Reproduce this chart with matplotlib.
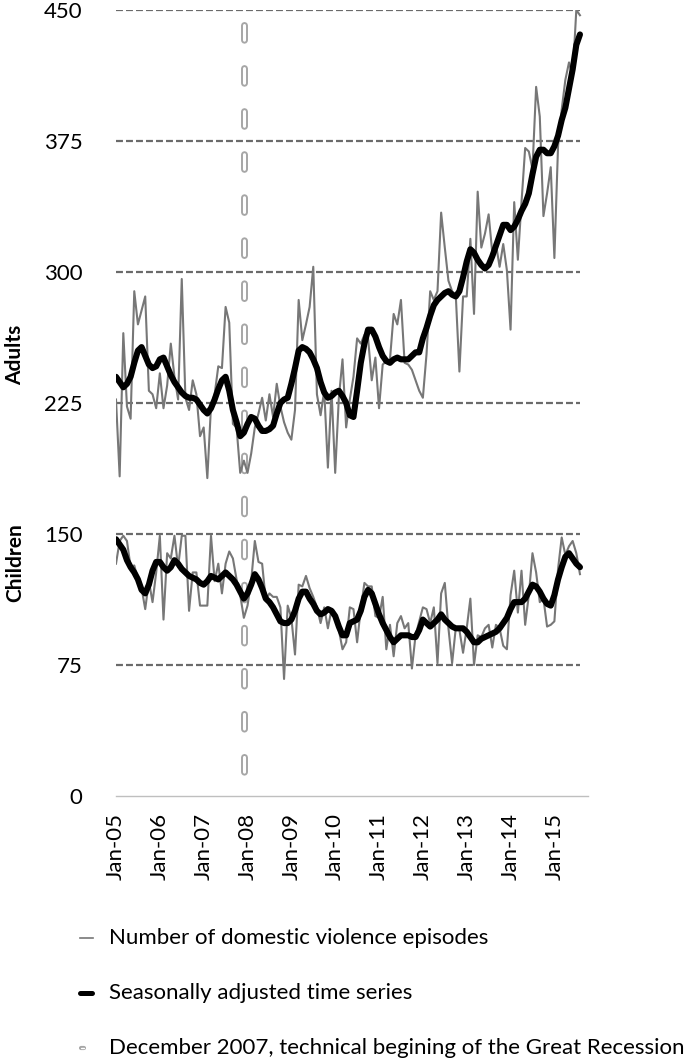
import matplotlib
matplotlib.use("Agg")
import matplotlib.pyplot as plt
from matplotlib.lines import Line2D
import numpy as np

plt.rcParams["font.family"] = ["Lato", "DejaVu Sans"]
plt.rcParams["lines.scale_dashes"] = False

# monthly series, Jan 2005 .. Aug 2015
adults_raw = [
    227, 183, 265, 223, 216, 289, 270, 278, 286, 232, 230, 222,
    242, 222, 235, 259, 240, 227, 296, 228, 221, 238, 230, 206,
    211, 182, 223, 230, 246, 245, 280, 271, 213, 211, 185, 192,
    185, 196, 211, 219, 228, 215, 230, 217, 236, 223, 214, 208,
    204, 221, 284, 261, 270, 280, 303, 230, 218, 232, 188, 232,
    185, 228, 250, 211, 227, 240, 262, 259, 264, 262, 238, 251,
    222, 247, 249, 250, 276, 270, 284, 248, 247, 244, 238, 232,
    228, 253, 289, 284, 289, 334, 314, 295, 289, 287, 243, 286,
    286, 319, 276, 346, 314, 322, 333, 311, 316, 303, 316, 301,
    267, 340, 307, 340, 371, 369, 359, 406, 389, 332, 345, 360,
    308, 372, 393, 410, 420, 412, 450, 447,
]
adults_sa = [
    240, 237, 234, 236, 240, 248, 255, 257, 252, 247, 245, 246,
    250, 251, 246, 241, 237, 234, 231, 229, 228, 228, 227, 224,
    221, 219, 222, 227, 233, 238, 240, 232, 221, 214, 206, 208,
    213, 217, 216, 212, 209, 209, 210, 212, 219, 225, 227, 228,
    236, 245, 255, 257, 256, 254, 250, 245, 237, 231, 228, 229,
    231, 232, 229, 225, 218, 217, 232, 248, 259, 267, 267, 263,
    257, 252, 249, 248, 250, 251, 250, 250, 250, 252, 254, 254,
    262, 268, 275, 281, 284, 286, 288, 289, 287, 286, 289, 297,
    306, 313, 311, 307, 304, 302, 304, 309, 315, 321, 327, 327,
    324, 326, 330, 335, 339, 345, 356, 366, 370, 370, 368, 368,
    372, 378, 387, 394, 405, 416, 430, 436,
]
children_raw = [
    133, 146, 149, 146, 131, 132, 124, 119, 107, 123, 111, 128,
    149, 101, 139, 136, 149, 131, 149, 149, 106, 128, 128, 109,
    109, 109, 149, 123, 133, 116, 133, 140, 136, 124, 115, 102,
    109, 123, 146, 134, 133, 112, 116, 114, 114, 108, 67, 109,
    102, 81, 121, 120, 126, 119, 114, 108, 99, 108, 96, 107,
    104, 95, 84, 88, 108, 107, 88, 107, 122, 120, 120, 103,
    102, 114, 84, 98, 80, 99, 103, 96, 99, 73, 92, 100,
    108, 107, 99, 108, 76, 116, 122, 96, 76, 96, 95, 82,
    96, 113, 75, 92, 91, 96, 98, 85, 98, 96, 86, 84,
    115, 129, 105, 129, 98, 115, 139, 128, 111, 113, 97, 98,
    100, 130, 148, 138, 143, 146, 139, 127,
]
children_sa = [
    147, 144, 141, 135, 131, 128, 124, 118, 116, 121, 129, 134,
    134, 131, 129, 131, 135, 133, 130, 128, 126, 125, 124, 122,
    121, 123, 126, 125, 124, 126, 128, 126, 124, 121, 117, 113,
    116, 121, 127, 124, 119, 113, 111, 108, 104, 100, 99, 99,
    101, 106, 113, 117, 117, 113, 110, 106, 104, 105, 107, 106,
    103, 97, 92, 92, 99, 100, 101, 106, 114, 118, 116, 110,
    104, 99, 95, 91, 88, 90, 92, 92, 92, 91, 91, 95,
    101, 99, 97, 99, 101, 104, 101, 99, 97, 96, 96, 96,
    94, 91, 88, 88, 90, 91, 92, 93, 94, 96, 99, 102,
    107, 111, 111, 111, 113, 117, 121, 120, 117, 113, 110, 109,
    115, 124, 131, 137, 139, 136, 133, 131,
]
tick_labels = ["Jan-05", "Jan-06", "Jan-07", "Jan-08", "Jan-09", "Jan-10",
               "Jan-11", "Jan-12", "Jan-13", "Jan-14", "Jan-15"]
y_ticks = [0, 75, 150, 225, 300, 375, 450]
recession_month = 35  # December 2007

RAW_COL = "#777777"
GRID_COL = "#6a6a6a"
REC_COL = "#a6a6a6"

months = np.arange(len(adults_raw))

fig = plt.figure(figsize=(6.89, 10.63), dpi=100)
ax = fig.add_axes([116 / 689, 1 - 796 / 1063, 472 / 689, 786 / 1063])
ax.set_xlim(0, 129.2)
ax.set_ylim(0, 450)

# dashed gridlines
ax.hlines(y_ticks[1:], 0, months[-1], colors=GRID_COL, lw=1.6,
          linestyles=[(0, (5.0, 2.2))], zorder=1)

# recession marker: hollow rounded dashes
for lw, col in [(5.0, REC_COL), (2.2, "white")]:
    ax.plot([recession_month, recession_month], [450, 0], color=col, lw=lw,
            linestyle=(20.2, (10.6, 20.4)), dash_capstyle="round", zorder=2,
            clip_on=False)

for raw, sa in [(adults_raw, adults_sa), (children_raw, children_sa)]:
    ax.plot(months, raw, color=RAW_COL, lw=1.5, zorder=3)
    ax.plot(months, sa, color="black", lw=4.4, zorder=4,
            solid_capstyle="round", solid_joinstyle="round")

for s in ["top", "right", "left"]:
    ax.spines[s].set_visible(False)
ax.spines["bottom"].set_color("#bfbfbf")
ax.spines["bottom"].set_linewidth(1.0)

ax.set_yticks(y_ticks)
ax.set_xticks(months[::12][:len(tick_labels)])
ax.set_xticklabels(tick_labels, rotation=90, fontsize=16)
ax.tick_params(axis="y", length=0, pad=24, labelsize=16)
ax.tick_params(axis="x", length=0, pad=12)

fig.text(15 / 689, 1 - 355 / 1063, "Adults", rotation=90, ha="center",
         va="center", fontsize=15, fontweight="bold")
fig.text(15 / 689, 1 - 563 / 1063, "Children", rotation=90, ha="center",
         va="center", fontsize=15, fontweight="bold")

# legend drawn by hand
leg_y = [938, 993, 1048]
leg_text = ["Number of domestic violence episodes",
            "Seasonally adjusted time series",
            "December 2007, technical begining of the Great Recession"]
fig.add_artist(Line2D([80 / 689, 93 / 689], [1 - leg_y[0] / 1063] * 2,
                      color=RAW_COL, lw=1.2))
fig.add_artist(Line2D([80 / 689, 92 / 689], [1 - leg_y[1] / 1063] * 2,
                      color="black", lw=3.6, solid_capstyle="round"))
fig.add_artist(Line2D([81 / 689, 84 / 689], [1 - leg_y[2] / 1063] * 2,
                      color=REC_COL, lw=3.0, solid_capstyle="round"))
fig.add_artist(Line2D([81 / 689, 84 / 689], [1 - leg_y[2] / 1063] * 2,
                      color="white", lw=1.0, solid_capstyle="round"))
for y, t in zip(leg_y, leg_text):
    fig.text(109 / 689, 1 - y / 1063, t, ha="left", va="center", fontsize=16)

fig.savefig("out.png", dpi=100)
